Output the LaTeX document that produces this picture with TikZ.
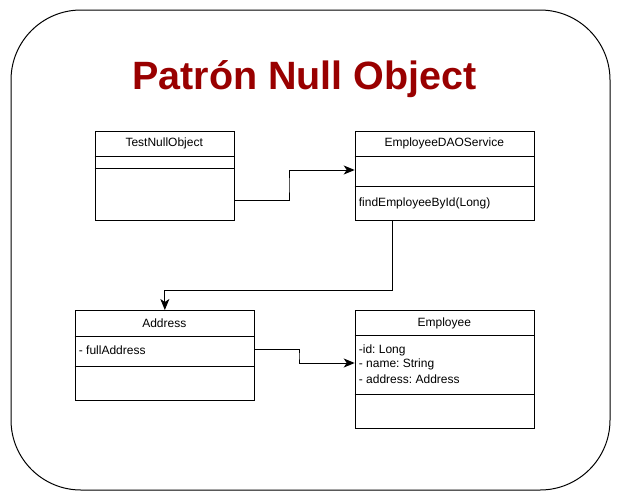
\documentclass[tikz,border=0pt]{standalone}
\usepackage{fontspec}
\setmainfont{Liberation Sans}
\usetikzlibrary{arrows.meta}
\definecolor{titlered}{HTML}{990000}
\frenchspacing
\begin{document}
\begin{tikzpicture}[x=1pt,y=-1pt,
  box/.style={draw=black,line width=1pt,fill=white,minimum width=179.3pt,anchor=north west,inner sep=0pt},
  sep/.style={draw=black,line width=1pt},
  lbl/.style={font=\fontsize{12}{14}\selectfont,inner sep=0pt},
  arr/.style={draw=black,line width=1pt,-{Stealth[length=11pt,width=9pt,inset=3pt]}}]
\useasboundingbox (0,0) rectangle (621,501);
\fill[white] (0,0) rectangle (621,501);
\draw[line width=1pt,rounded corners=70pt] (11,10) rectangle (610,490);
\node[font=\fontsize{39.5}{44}\selectfont\bfseries,text=titlered,anchor=base,inner sep=0pt] (title) at (304.5,89) {Patrón Null Object};
% TestNullObject
\node[box,minimum width=139.5pt,minimum height=89pt] (tno) at (94.5,130.5) {};
\draw[sep] (tno.west |- 0,156) -- (tno.east |- 0,156);
\draw[sep] (tno.west |- 0,168) -- (tno.east |- 0,168);
\node[lbl] (tnot) at (164.2,143) {TestNullObject};
% EmployeeDAOService
\node[box,minimum height=89pt] (dao) at (354.7,130.5) {};
\draw[sep] (dao.west |- 0,156) -- (dao.east |- 0,156);
\draw[sep] (dao.west |- 0,186) -- (dao.east |- 0,186);
\node[lbl] (daot) at (444.3,143) {EmployeeDAOService};
\node[lbl,anchor=west] (daom) at (358.7,203) {findEmployeeById(Long)};
% Address
\node[box,minimum height=90pt] (addr) at (74.7,310) {};
\draw[sep] (addr.west |- 0,336) -- (addr.east |- 0,336);
\draw[sep] (addr.west |- 0,366) -- (addr.east |- 0,366);
\node[lbl] (addrt) at (164.3,323) {Address};
\node[lbl,anchor=west] (addra) at (78.7,350) {- fullAddress};
% Employee
\node[box,minimum height=118pt] (emp) at (354.7,310) {};
\draw[sep] (emp.west |- 0,335.5) -- (emp.east |- 0,335.5);
\draw[sep] (emp.west |- 0,394) -- (emp.east |- 0,394);
\node[lbl] (empt) at (444.3,323) {Employee};
\node[lbl,anchor=west] (emp1) at (358.7,350) {-id: Long};
\node[lbl,anchor=west] (emp2) at (358.7,364.5) {- name: String};
\node[lbl,anchor=west] (emp3) at (358.7,379) {- address: Address};
% connectors
\draw[arr] (tno.east |- 0,200) -| (289,185) |- (dao.west |- 0,170);
\draw[arr] (dao.south -| 392,0) |- (addr.north |- 0,290.5) -- (addr.north);
\draw[arr] (addr.east |- 0,349) -| (299,356) |- (emp.west |- 0,363);
\end{tikzpicture}
\end{document}
